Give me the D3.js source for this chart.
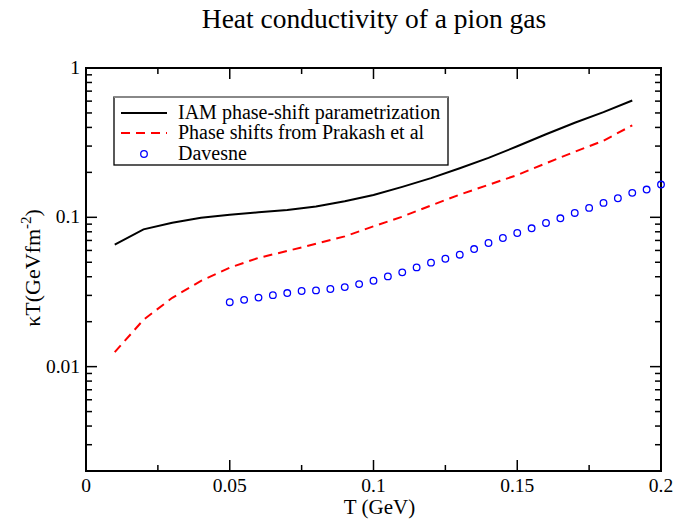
<!DOCTYPE html>
<html><head><meta charset="utf-8">
<script src="https://cdn.jsdelivr.net/npm/d3@7"></script>
<style>body{margin:0;background:#fff}svg{font-family:"Liberation Serif","Times New Roman",serif}</style>
</head><body>
<svg id="c" width="675" height="519"></svg>
<script>
const temps = [0.01,0.02,0.03,0.04,0.05,0.06,0.07,0.08,0.09,0.10,0.11,0.12,0.13,0.14,0.15,0.16,0.17,0.18,0.19];
const iam = [0.0656,0.083,0.092,0.0995,0.104,0.108,0.112,0.118,0.128,0.141,0.16,0.183,0.213,0.25,0.299,0.36,0.43,0.506,0.606];
const prakash = [0.0125,0.0206,0.0289,0.0375,0.046,0.0535,0.0595,0.0665,0.0745,0.087,0.101,0.12,0.142,0.165,0.192,0.23,0.275,0.326,0.413];
const davT = [0.05,0.055,0.06,0.065,0.07,0.075,0.08,0.085,0.09,0.095,0.10,0.105,0.11,0.115,0.12,0.125,0.13,0.135,0.14,0.145,0.15,0.155,0.16,0.165,0.17,0.175,0.18,0.185,0.19,0.195,0.20];
const davesne = [0.027,0.028,0.029,0.0301,0.0311,0.0321,0.0324,0.0331,0.0341,0.0357,0.0376,0.0402,0.0428,0.0462,0.0497,0.0528,0.0562,0.0613,0.0673,0.0727,0.0785,0.0844,0.0917,0.0985,0.107,0.1156,0.1249,0.1342,0.1458,0.1534,0.1658];
const xTicks = [0,0.05,0.1,0.15,0.2];
const xTickLabels = ["0","0.05","0.1","0.15","0.2"];
const yTicks = [0.01,0.1,1];
const yTickLabels = ["0.01","0.1","1"];
const legendLabels = ["IAM phase-shift parametrization","Phase shifts from Prakash et al","Davesne"];

const L=86,T=68,W=575,H=403;
const svg=d3.select("#c");
const x=d3.scaleLinear().domain([0,0.2]).range([L,L+W]);
const y=d3.scaleLog().domain([0.002,1]).range([T+H,T]);

const xMinor=[0.025,0.075,0.125,0.175];
const yMinor=[];
[0.001,0.01,0.1].forEach(d=>{for(let k=2;k<=9;k++){const v=d*k;if(v>=0.002&&v<1)yMinor.push(v);}});

const g=svg.append("g").attr("stroke","#000");
function tk(x1,y1,x2,y2,w){g.append("line").attr("x1",x1).attr("y1",y1).attr("x2",x2).attr("y2",y2).attr("stroke-width",w||1.5);}
xTicks.forEach(v=>{tk(x(v),T+H,x(v),T+H-11);tk(x(v),T,x(v),T+11);});
xMinor.forEach(v=>{tk(x(v),T+H,x(v),T+H-6);tk(x(v),T,x(v),T+6);});
yTicks.forEach(v=>{tk(L,y(v),L+11,y(v));tk(L+W,y(v),L+W-11,y(v));});
yMinor.forEach(v=>{tk(L,y(v),L+6,y(v));tk(L+W,y(v),L+W-6,y(v));});
svg.append("rect").attr("x",L).attr("y",T).attr("width",W).attr("height",H).attr("fill","none").attr("stroke","#000").attr("stroke-width",2);

xTicks.forEach((v,i)=>svg.append("text").attr("x",x(v)).attr("y",492).attr("text-anchor","middle").attr("font-size",19.5).text(xTickLabels[i]));
yTicks.forEach((v,i)=>svg.append("text").attr("x",L-6).attr("y",y(v)+6).attr("text-anchor","end").attr("font-size",19.5).text(yTickLabels[i]));

svg.append("text").attr("x",374).attr("y",28).attr("text-anchor","middle").attr("font-size",27.5).text("Heat conductivity of a pion gas");
svg.append("text").attr("x",L+W/2+6).attr("y",514).attr("text-anchor","middle").attr("font-size",21).text("T (GeV)");
const yl=svg.append("text").attr("transform","translate(40,268) rotate(-90)").attr("text-anchor","middle").attr("font-size",22);
yl.append("tspan").text("κT(GeVfm");
yl.append("tspan").attr("dy",-9).attr("font-size",15).text("-2");
yl.append("tspan").attr("dy",9).text(")");

const line=d3.line().x(d=>x(d[0])).y(d=>y(d[1]));
svg.append("path").datum(temps.map((t,i)=>[t,iam[i]])).attr("d",line).attr("fill","none").attr("stroke","#000").attr("stroke-width",2);
svg.append("path").datum(temps.map((t,i)=>[t,prakash[i]])).attr("d",line).attr("fill","none").attr("stroke","#ff0000").attr("stroke-width",2).attr("stroke-dasharray","9,6");
svg.selectAll("circle.d").data(davT.map((t,i)=>[t,davesne[i]])).enter().append("circle").attr("class","d")
  .attr("cx",d=>x(d[0])).attr("cy",d=>y(d[1])).attr("r",3.3).attr("fill","none").attr("stroke","#0000ff").attr("stroke-width",1.3);

svg.append("rect").attr("x",114).attr("y",97).attr("width",334).attr("height",68).attr("fill","#fff").attr("stroke","#000").attr("stroke-width",1.3);
svg.append("line").attr("x1",114).attr("y1",97).attr("x2",448).attr("y2",97).attr("stroke","#888").attr("stroke-width",2);
const ly=[113,133,154];
svg.append("line").attr("x1",121).attr("y1",ly[0]).attr("x2",167).attr("y2",ly[0]).attr("stroke","#000").attr("stroke-width",2);
svg.append("line").attr("x1",121).attr("y1",ly[1]).attr("x2",167).attr("y2",ly[1]).attr("stroke","#ff0000").attr("stroke-width",2).attr("stroke-dasharray","9,6");
svg.append("circle").attr("cx",144).attr("cy",ly[2]).attr("r",3.3).attr("fill","none").attr("stroke","#0000ff").attr("stroke-width",1.3);
legendLabels.forEach((s,i)=>svg.append("text").attr("x",178).attr("y",ly[i]+6).attr("font-size",20).text(s));
</script>
</body></html>
